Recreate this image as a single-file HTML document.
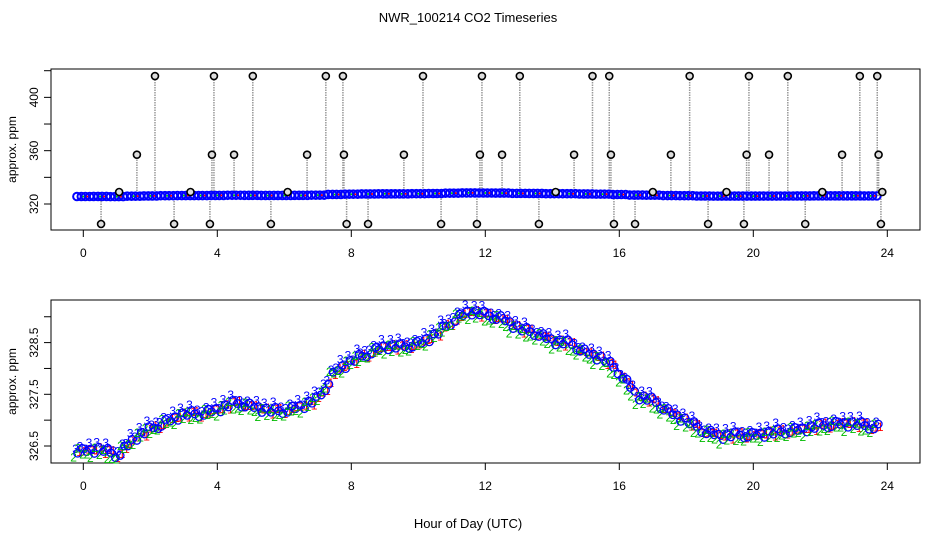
<!DOCTYPE html>
<html><head><meta charset="utf-8"><style>
html,body{margin:0;padding:0;background:#fff;}
svg{display:block;font-family:"Liberation Sans",sans-serif;}
</style></head><body>
<svg id="chart" width="936" height="540" xmlns="http://www.w3.org/2000/svg">
<text x="468" y="22" font-size="13" text-anchor="middle">NWR_100214  CO2 Timeseries</text>
<g id="toppanel"></g>
<g id="botpanel"></g>
<text x="468" y="528" font-size="13" text-anchor="middle">Hour of Day (UTC)</text>
</svg>
<script>
// smoothed CO2 series (ppm) every 0.5 hour
const hours = [0,0.5,1,1.5,2,2.5,3,3.5,4,4.5,5,5.5,6,6.5,7,7.5,8,8.5,9,9.5,10,10.5,11,11.5,12,12.5,13,13.5,14,14.5,15,15.5,16,16.5,17,17.5,18,18.5,19,19.5,20,20.5,21,21.5,22,22.5,23,23.5];
const co2 = [326.42,326.46,326.33,326.67,326.85,327.0,327.14,327.14,327.23,327.35,327.29,327.2,327.2,327.29,327.43,327.97,328.16,328.32,328.45,328.43,328.5,328.67,328.94,329.13,329.05,328.98,328.78,328.7,328.55,328.5,328.32,328.2,327.93,327.49,327.39,327.16,327.0,326.81,326.71,326.73,326.73,326.77,326.81,326.85,326.91,326.95,326.95,326.89];
// spike outliers in top panel
const spikeHours = [0.53,1.07,1.6,2.14,2.71,3.2,3.78,3.84,3.9,4.5,5.06,5.6,6.1,6.68,7.24,7.75,7.78,7.86,8.5,9.57,10.14,10.68,11.75,11.84,11.9,12.5,13.03,13.6,14.1,14.65,15.2,15.7,15.75,15.84,16.47,17.0,17.54,18.1,18.65,19.2,19.72,19.8,19.87,20.47,21.03,21.55,22.06,22.65,23.18,23.7,23.74,23.81,23.85];
const spikeVals = [305,329,357,416,305,329,305,357,416,357,416,305,329,357,416,416,357,305,305,357,416,305,305,357,416,357,416,305,329,357,416,416,357,305,305,329,357,416,305,329,305,357,416,357,416,305,329,357,416,416,357,305,329];
const xTicks = [0,4,8,12,16,20,24];
const topTicks = [320,340,360,380,400,420];
const topLabels = [320,360,400];
const botTicks = [326.5,327,327.5,328,328.5,329];
const botLabels = [326.5,327.5,328.5];

const NS="http://www.w3.org/2000/svg";
function mk(parent,tag,attrs){const e=document.createElementNS(NS,tag);for(const k in attrs)e.setAttribute(k,attrs[k]);parent.appendChild(e);return e;}
const xs = h => 83.3 + h*33.5;
const yTop = v => 204 - (v-320)*1.333;
const yBot = v => 446 - (v-326.5)*51.7;
function panel(g,t0,b0,ticks,labels,yf,labelName){
  const r=mk(g,'rect',{x:51,y:t0,width:869,height:b0-t0,fill:'none',stroke:'#000','stroke-width':1});
  
  
  xTicks.forEach(t=>{
    const l=mk(g,'line',{x1:xs(t),x2:xs(t),y1:b0,y2:b0+7,stroke:'#000'});
    
    
    const tx=mk(g,'text',{x:xs(t),y:b0+27,'font-size':12,'text-anchor':'middle'});tx.textContent=t;
    
    
  });
  ticks.forEach(t=>{
    const l=mk(g,'line',{x1:44,x2:51,y1:yf(t),y2:yf(t),stroke:'#000'});
    
    
  });
  labels.forEach(t=>{
    const tx=mk(g,'text',{x:0,y:0,'font-size':12,'text-anchor':'middle',transform:`translate(38,${yf(t)}) rotate(-90)`});tx.textContent=t;
    
    
  });
  const yl=mk(g,'text',{x:0,y:0,'font-size':12,'text-anchor':'middle',transform:`translate(16,${(t0+b0)/2}) rotate(-90)`});yl.textContent='approx. ppm';
  
  
}
const gTop=document.getElementById('toppanel'), gBot=document.getElementById('botpanel');
panel(gTop,69,230,topTicks,topLabels,yTop,'top-y-axis-title');
panel(gBot,300,463,botTicks,botLabels,yBot,'bottom-y-axis-title');

// top: spikes with dotted grey connectors
spikeHours.forEach((h,i)=>{
  const l=mk(gTop,'line',{x1:xs(h),x2:xs(h),y1:yTop(326),y2:yTop(spikeVals[i]),stroke:'#999','stroke-width':1.5,'stroke-dasharray':'1.5,1'});
  
  
});
// top baseline band
const offs=[-0.19,-0.06,0.06,0.19];
hours.forEach((h,i)=>{
  offs.forEach(o=>{
    const c=mk(gTop,'circle',{cx:xs(h+o),cy:yTop(co2[i]-0.8),r:3.8,fill:'none',stroke:'#0000ff','stroke-width':2});
    
    
  });
  const d=mk(gTop,'circle',{cx:xs(h),cy:yTop(co2[i]-0.8),r:1,fill:'#00cc00'});
  
  
  const d2=mk(gTop,'circle',{cx:xs(h+0.12),cy:yTop(co2[i]-0.8),r:1,fill:'#ff0000'});
  
  
});
spikeHours.forEach((h,i)=>{
  const c=mk(gTop,'circle',{cx:xs(h),cy:yTop(spikeVals[i]),r:3.5,fill:'#ddd',stroke:'#000','stroke-width':1.6});
  
  
});

// bottom: numbered series glyphs (sub-glyphs follow slope to next reading)
const subs=[-0.2,-0.07,0.07,0.2];
const jit=[3,-4,1,-2,5,-3,2,-5,0,4];
hours.forEach((h,i)=>{
  const nxt = i<co2.length-1 ? co2[i+1] : co2[i];
  const prv = i>0 ? co2[i-1] : co2[i];
  subs.forEach((o,j)=>{
    const v = o>=0 ? co2[i]+(nxt-co2[i])*o/0.5 : co2[i]+(co2[i]-prv)*o/0.5;
    const k=(i*4+j)%10;
    const x=xs(h+o), y=yBot(v)+jit[k]*0.7;
    const t1=mk(gBot,'text',{x:x+3,y:y+5+jit[(k+3)%10]*0.6,'font-size':12,fill:'#ff0000','text-anchor':'middle'});t1.textContent='1';
    
    
    const t2=mk(gBot,'text',{x:x-3,y:y+8+jit[(k+6)%10]*0.6,'font-size':12,fill:'#00bb00','text-anchor':'middle'});t2.textContent='2';
    
    
    const t3=mk(gBot,'text',{x:x-1,y:y+1+jit[(k+8)%10]*0.5,'font-size':12,fill:'#0000ff','text-anchor':'middle'});t3.textContent='3';
    
    
    const c=mk(gBot,'circle',{cx:x+1,cy:y+1,r:3.8,fill:'none',stroke:'#0000ff','stroke-width':1.3});
    
    
  });
});
</script>
</body></html>
